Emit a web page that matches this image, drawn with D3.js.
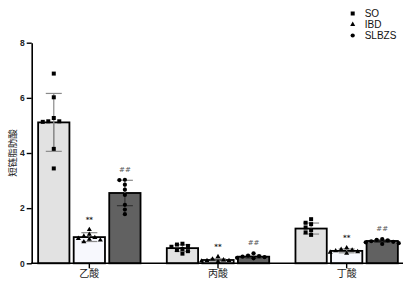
<!DOCTYPE html>
<html>
<head>
<meta charset="utf-8">
<script src="https://cdn.jsdelivr.net/npm/d3@7"></script>
<style>
  body { margin: 0; background: #fff; }
  svg { font-family: "Liberation Sans", Arial, "Noto Sans CJK SC", sans-serif; }
</style>
</head>
<body>
<div class="chart"></div>
<script>
const categories = ['乙酸', '丙酸', '丁酸']
const series = ['SO', 'IBD', 'SLBZS']
const yTicks = [0, 2, 4, 6, 8]

// bar heights (mean) per series, per category
const means_SO = [5.11, 0.55, 1.26]
const means_IBD = [0.95, 0.12, 0.45]
const means_SLBZS = [2.55, 0.24, 0.81]

// error bar half-height (SD)
const sd_SO = [1.05, 0.12, 0.2]
const sd_IBD = [0.16, 0.04, 0.07]
const sd_SLBZS = [0.46, 0.05, 0.05]

// individual points
const pts_SO = [
  [6.88, 6.02, 5.27, 5.15, 5.15, 5.13, 4.15, 3.44],
  [0.71, 0.68, 0.63, 0.6, 0.52, 0.48, 0.44, 0.35],
  [1.6, 1.47, 1.42, 1.3, 1.2, 1.12, 1.03]
]
const pts_IBD = [
  [1.22, 1.05, 0.98, 0.93, 0.9, 0.87, 0.84, 0.78],
  [0.24, 0.15, 0.12, 0.1, 0.1, 0.08, 0.06],
  [0.56, 0.5, 0.48, 0.45, 0.42, 0.4, 0.36]
]
const pts_SLBZS = [
  [3.03, 3.02, 2.85, 2.67, 2.48, 2.12, 1.95, 1.78],
  [0.36, 0.28, 0.26, 0.24, 0.22, 0.2, 0.18],
  [0.88, 0.85, 0.83, 0.8, 0.78, 0.76, 0.73, 0.7]
]
const marks_IBD = ['**', '**', '**']
const marks_SLBZS = ['##', '##', '##']

const means = { SO: means_SO, IBD: means_IBD, SLBZS: means_SLBZS }
const sds = { SO: sd_SO, IBD: sd_IBD, SLBZS: sd_SLBZS }
const pts = { SO: pts_SO, IBD: pts_IBD, SLBZS: pts_SLBZS }
const marks = { SO: ['', '', ''], IBD: marks_IBD, SLBZS: marks_SLBZS }

const width = 407
const height = 283

const fills = { SO: '#e2e2e2', IBD: '#f7f8fd', SLBZS: '#616161' }
const markers = { SO: d3.symbolSquare, IBD: d3.symbolTriangle, SLBZS: d3.symbolCircle }
const markerSize = { SO: 16, IBD: 11, SLBZS: 14 }

const svg = d3.select('.chart').append('svg')
  .attr('width', width)
  .attr('height', height)

const x = d3.scaleBand()
  .domain(categories)
  .range([25, 411])

const xs = d3.scaleBand()
  .domain(series)
  .range([-51.2, 51.2])
  .paddingInner(0.12)

const y = d3.scaleLinear()
  .domain([0, 8])
  .range([263.3, 42.7])

const rows = []
categories.forEach((c, i) => {
  series.forEach(s => {
    rows.push({ cat: c, s: s, mean: means[s][i], sd: sds[s][i], pts: pts[s][i], mark: marks[s][i] })
  })
})

const cx = d => x(d.cat) + x.bandwidth() / 2 + xs(d.s) + xs.bandwidth() / 2

// bars
svg.selectAll('rect.bar')
  .data(rows)
  .enter()
  .append('rect')
  .attr('class', 'bar')
  .attr('x', d => x(d.cat) + x.bandwidth() / 2 + xs(d.s))
  .attr('width', xs.bandwidth())
  .attr('y', d => y(d.mean))
  .attr('height', d => y(0) - y(d.mean))
  .attr('fill', d => fills[d.s])
  .attr('stroke', '#000')
  .attr('stroke-width', 1.8)

// error bars: grey, darker where they sit inside the dark bar
const eb = svg.selectAll('g.err')
  .data(rows)
  .enter()
  .append('g')
  .attr('class', 'err')
  .attr('stroke-width', 1.2)

const lo = d => y(Math.max(0, d.mean - d.sd))
const hi = d => y(d.mean + d.sd)
eb.append('line')
  .attr('stroke', '#8a8a8a')
  .attr('x1', cx).attr('x2', cx)
  .attr('y1', hi)
  .attr('y2', d => d.s === 'SLBZS' ? y(d.mean) : lo(d))
eb.append('line')
  .attr('stroke', d => d.s === 'SLBZS' ? '#333' : '#8a8a8a')
  .attr('x1', cx).attr('x2', cx)
  .attr('y1', d => y(d.mean))
  .attr('y2', lo)
eb.append('line')
  .attr('stroke', '#8a8a8a')
  .attr('x1', d => cx(d) - 8).attr('x2', d => cx(d) + 8)
  .attr('y1', hi).attr('y2', hi)
eb.append('line')
  .attr('stroke', d => d.s === 'SLBZS' ? '#333' : '#8a8a8a')
  .attr('x1', d => cx(d) - 8).attr('x2', d => cx(d) + 8)
  .attr('y1', lo).attr('y2', lo)

// simple swarm so close points spread sideways
function swarm(vals) {
  const placed = []
  const step = 5.5
  vals.forEach(v => {
    const py = y(v)
    let k = 0
    let ox = 0
    while (true) {
      ox = (k % 2 === 0 ? 1 : -1) * Math.ceil(k / 2) * step
      if (!placed.some(p => Math.abs(p.py - py) < 4.5 && Math.abs(p.ox - ox) < 4.5)) break
      k++
    }
    placed.push({ v: v, py: py, ox: ox })
  })
  return placed
}

rows.forEach(d => {
  const sym = d3.symbol().type(markers[d.s]).size(markerSize[d.s])
  svg.append('g')
    .selectAll('path')
    .data(swarm(d.pts))
    .enter()
    .append('path')
    .attr('d', sym)
    .attr('transform', p => `translate(${cx(d) + p.ox}, ${p.py})`)
    .attr('fill', '#000')
})

// significance marks
svg.selectAll('text.mark')
  .data(rows.filter(d => d.mark))
  .enter()
  .append('text')
  .attr('class', 'mark')
  .attr('x', cx)
  .attr('y', d => Math.min(y(d.mean + d.sd), y(d3.max(d.pts))) - 8)
  .attr('text-anchor', 'middle')
  .attr('font-size', '7px')
  .attr('font-family', '"DejaVu Sans", sans-serif')
  .attr('font-weight', d => d.s === 'IBD' ? 'bold' : 'normal')
  .attr('fill', d => d.s === 'IBD' ? '#222' : '#555')
  .text(d => d.mark)

// y axis
const yAxis = svg.append('g')
  .attr('transform', 'translate(31.7, 0)')
  .call(d3.axisLeft(y).tickValues(yTicks).tickSize(5).tickSizeOuter(0))
yAxis.select('.domain').attr('stroke-width', 1.6)
yAxis.selectAll('.tick line').attr('stroke-width', 1.4)
yAxis.selectAll('.tick text')
  .attr('font-size', '8.5px')
  .attr('font-weight', 'bold')
  .attr('fill', '#222')
  .attr('x', -7)

// x axis
svg.append('line')
  .attr('x1', 31).attr('x2', 403)
  .attr('y1', y(0)).attr('y2', y(0))
  .attr('stroke', '#000')
  .attr('stroke-width', 1.6)
const xAxis = svg.append('g')
  .attr('transform', `translate(0, ${y(0)})`)
  .call(d3.axisBottom(x).tickSize(5).tickSizeOuter(0))
xAxis.select('.domain').remove()
xAxis.selectAll('.tick line').attr('stroke-width', 1.4)
xAxis.selectAll('.tick text')
  .attr('font-size', '10px')
  .attr('font-family', '"Noto Sans CJK SC", sans-serif')
  .attr('fill', '#222')
  .attr('y', 7)

// y label
svg.append('text')
  .attr('transform', 'translate(15.5, 153) rotate(-90)')
  .attr('text-anchor', 'middle')
  .attr('font-size', '9.5px')
  .attr('font-family', '"Noto Sans CJK SC", sans-serif')
  .attr('fill', '#222')
  .text('短链脂肪酸')

// legend
const leg = svg.selectAll('g.leg')
  .data(series)
  .enter()
  .append('g')
  .attr('class', 'leg')
  .attr('transform', (d, i) => `translate(352.7, ${13.5 + i * 11})`)
leg.append('path')
  .attr('d', d => d3.symbol().type(markers[d]).size(markerSize[d])())
  .attr('fill', '#000')
leg.append('text')
  .attr('x', 12)
  .attr('y', 3.7)
  .attr('font-size', '10px')
  .attr('fill', '#111')
  .text(d => d)
</script>
</body>
</html>
